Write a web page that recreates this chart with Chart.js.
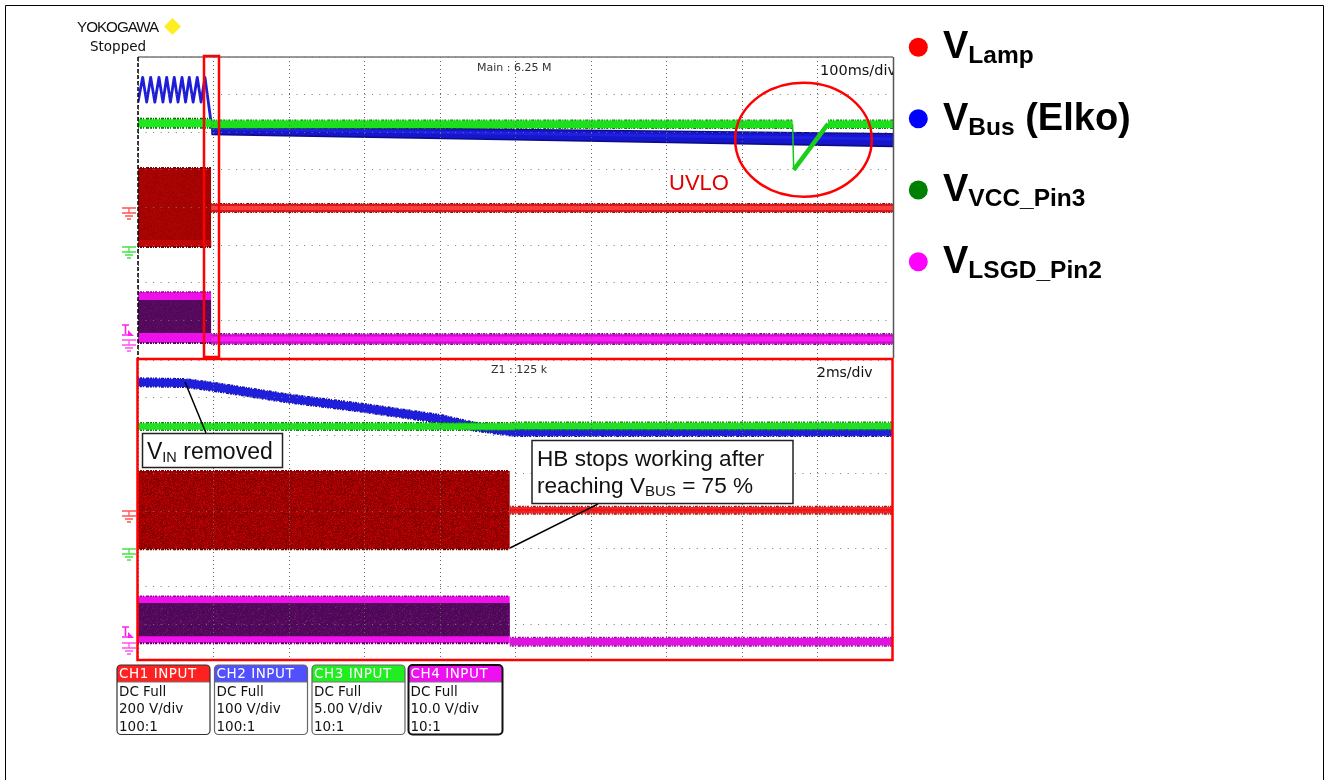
<!DOCTYPE html>
<html><head><meta charset="utf-8">
<style>
html,body{margin:0;padding:0;background:#fff;width:1329px;height:780px;overflow:hidden}
canvas{position:absolute;display:block}
svg{position:absolute;left:0;top:0}
text{font-family:"Liberation Sans",Arial,sans-serif}
.scope{font-family:"DejaVu Sans",sans-serif}
</style>
<script src="https://cdn.jsdelivr.net/npm/chart.js@4"></script>
</head><body>
<canvas id="top" width="755" height="301" style="left:138px;top:57px"></canvas>
<canvas id="bot" width="755" height="302" style="left:138px;top:360px"></canvas>
<svg id="ov" width="1329" height="780" xmlns="http://www.w3.org/2000/svg"></svg>
<script>
// ---- data: time in ms, level in scope divisions above the bottom graticule line ----
const topBurstTime = [0, 97];
const topAfterTime = [97, 1000];
const topLampBurstHigh = [5.05, 5.05];
const topLampBurstLow = [2.95, 2.95];
const topLampBurstFloor = [3.04, 3.04];
const topLampLine = [3.99, 3.99];
const topBusRippleTime = [0, 6.2, 11.5, 16.8, 22.3, 27.8, 33, 38, 43, 48, 53, 58.3, 63, 67.9, 73, 78.5, 83.5, 88.7, 96.7];
const topBusRipple = [6.8, 7.46, 6.8, 7.46, 6.8, 7.46, 6.8, 7.46, 6.8, 7.46, 6.8, 7.46, 6.8, 7.46, 6.8, 7.46, 6.8, 7.46, 6.28];
const topBusTime = [97, 500, 1000];
const topBusHigh = [6.16, 6.06, 5.95];
const topBusLow = [5.96, 5.82, 5.65];
const topBusEdgeHigh = [6.19, 6.09, 5.98];
const topBusEdgeLow = [5.92, 5.78, 5.6];
const topBusCore = [6.09, 5.97, 5.82];
const topVccTimeA = [0, 97];
const topVccA = [6.24, 6.24];
const topVccTimeB = [97, 867];
const topVccB = [6.21, 6.21];
const topVccDropTime = [867, 868.5];
const topVccDrop = [6.21, 5.0];
const topVccRampTime = [868.5, 914];
const topVccRamp = [5.0, 6.22];
const topVccTimeC = [914, 1000];
const topVccC = [6.21, 6.21];
const topLsgdTop = [1.755, 1.755];
const topLsgdUpper = [1.54, 1.54];
const topLsgdLower = [0.665, 0.665];
const topLsgdLow = [0.40, 0.40];
const topLsgdLine = [0.505, 0.505];

const botBurstTime = [0, 9.85];
const botAfterTime = [9.85, 20];
const botLampBurstHigh = [5.06, 5.06];
const botLampBurstLow = [2.99, 2.99];
const botLampLine = [4.02, 4.02];
const botBusTime = [0, 1.24, 2.0, 3.99, 5.98, 8.0, 8.87, 10.0, 20];
const botBus = [7.41, 7.39, 7.29, 6.98, 6.73, 6.44, 6.24, 6.09, 6.09];
const botVccTime = [0, 9.9, 10.0, 20];
const botVcc = [6.24, 6.24, 6.25, 6.25];
const botLsgdTop = [1.74, 1.74];
const botLsgdUpper = [1.565, 1.565];
const botLsgdLower = [0.68, 0.68];
const botLsgdLow = [0.50, 0.50];
const botLsgdLine = [0.535, 0.535];

const channelNames = ["CH1 INPUT", "CH2 INPUT", "CH3 INPUT", "CH4 INPUT"];
const channelScales = ["200 V/div", "100 V/div", "5.00 V/div", "10.0 V/div"];
const channelProbes = ["100:1", "100:1", "10:1", "10:1"];
const legendMain = ["Lamp", "Bus", "VCC_Pin3", "LSGD_Pin2"];

// ---- styling helpers ----
const NOISE = [1,1,2,1,1,2,3,1,2,1,1,1,2,2,1,1,3,1];
function pts(xs, ys){ return xs.map((x,i)=>({x, y:ys[i]})); }
function line(xs, ys, color, width, dash){
  return {data:pts(xs,ys), borderColor:color, borderWidth:width, borderDash:dash||[], showLine:true,
          pointRadius:0, tension:0, fill:false, borderCapStyle:'butt', borderJoinStyle:'round'};
}
function band(xs, high, low, fillStyle){
  return {data:pts(xs,high), borderWidth:0, borderColor:'rgba(0,0,0,0)', showLine:true, pointRadius:0, tension:0,
          backgroundColor:fillStyle, fill:{target:{value:low[0]}}};
}
function bandBetween(xs, high, low, color){ // sloped band: second series fills up to the first
  return [ {data:pts(xs,high), borderWidth:0, showLine:true, pointRadius:0, tension:0, fill:false},
           {data:pts(xs,low), borderWidth:0, showLine:true, pointRadius:0, tension:0, backgroundColor:color, fill:'-1'} ];
}
function speckle(colors, weights){ // texture of the persisted scope trace, a fixed tile
  const c=document.createElement('canvas'); c.width=c.height=97;
  const g=c.getContext('2d'); let s=12345;
  const tot=weights.reduce((a,b)=>a+b,0);
  for(let y=0;y<97;y++)for(let x=0;x<97;x++){
    s=(s*1103515245+12345)&0x7fffffff;
    let r=((s>>8)%1000)/1000*tot,i=0;
    while(r>weights[i]){r-=weights[i];i++;}
    g.fillStyle=colors[i]; g.fillRect(x,y,1,1);
  }
  return g.createPattern(c,'repeat');
}
const redTopFill=speckle(['#a80404','#a00202','#ac0404','#980000'],[5,3,2,1]);
const redBotFill=speckle(['#a00000','#8a0000','#b00202','#c00808','#720000'],[5,3,3,1,1]);
const purpleFill=speckle(['#580a60','#520858','#600c68','#4c0652'],[5,3,1,1]);
const purpleFill2=speckle(['#540a5c','#4c0854','#661068','#460650','#7a1484'],[6,3,1,1,.3]);

function graticule(){
  return {
    x:{type:'linear',position:'bottom',display:true,ticks:{display:false},grid:{color:'#666',lineWidth:1,drawTicks:false,z:1},border:{display:false,dash:[1,3]}},
    y:{type:'linear',position:'left',display:true,min:0,max:8,ticks:{display:false,stepSize:1},grid:{color:'#777',lineWidth:1,drawTicks:false,z:1},border:{display:false,dash:[1,6.55]}}
  };
}
function scope(id, maxX, layers){
  const sc=graticule(); sc.x.min=0; sc.x.max=maxX; sc.x.ticks.stepSize=maxX/10;
  new Chart(document.getElementById(id),{
    type:'scatter',
    data:{datasets:layers.slice().reverse()},
    options:{responsive:false,animation:false,events:[],layout:{padding:0},
      plugins:{legend:{display:false},tooltip:{enabled:false}},scales:sc}
  });
}
// Sloped bands use fill:'-1' (the previous dataset in the chart), so their pair is listed low-first here.
const busEdge = bandBetween(topBusTime, topBusEdgeHigh, topBusEdgeLow, '#0c0c88').reverse();
const busBody = bandBetween(topBusTime, topBusHigh, topBusLow, '#1616cc').reverse();

// ---- top pane, listed bottom-most first ----
scope('top',1000,[
  band(topBurstTime, topLampBurstHigh, topLampBurstLow, redTopFill),
  line(topBurstTime, topLampBurstHigh, '#8a0000', 2, NOISE),
  line(topBurstTime, topLampBurstFloor, '#c00808', 7),
  line(topBurstTime, topLampBurstLow, '#700000', 2, NOISE),
  line(topAfterTime, topLampLine, '#8c0606', 10, NOISE),
  line(topAfterTime, topLampLine, '#d81818', 8),
  line(topAfterTime, topLampLine, '#ff3c3c', 4),
  band(topBurstTime, topLsgdTop, topLsgdLow, '#ee10e8'),
  band(topBurstTime, topLsgdUpper, topLsgdLower, purpleFill),
  line(topBurstTime, topLsgdLow, '#50085a', 2, NOISE),
  line(topBurstTime, topLsgdTop, '#8a1090', 1.5, NOISE),
  line(topAfterTime, topLsgdLine, '#7a1080', 12, NOISE),
  line(topAfterTime, topLsgdLine, '#c810c8', 9.5),
  line(topAfterTime, topLsgdLine, '#ff18f8', 5),
  line(topBusRippleTime, topBusRipple, '#1e1ed8', 2.8),
  ...busEdge,
  ...busBody,
  line(topBusTime, topBusCore, '#2020e4', 3),
  line(topVccTimeA, topVccA, '#0a6a0a', 11, NOISE),
  line(topVccTimeA, topVccA, '#20e820', 8),
  line(topVccTimeB, topVccB, '#0a7a0a', 9.5, NOISE),
  line(topVccTimeB, topVccB, '#1ce01c', 7.5),
  line(topVccTimeC, topVccC, '#0a7a0a', 9.5, NOISE),
  line(topVccTimeC, topVccC, '#1ce01c', 7.5),
  line(topVccDropTime, topVccDrop, '#18c818', 1.5),
  line(topVccRampTime, topVccRamp, '#18d018', 4.5)
]);

// ---- bottom pane ----
scope('bot',20,[
  band(botBurstTime, botLampBurstHigh, botLampBurstLow, redBotFill),
  line(botBurstTime, botLampBurstHigh, '#8a0000', 2, NOISE),
  line(botBurstTime, botLampBurstLow, '#700000', 2, NOISE),
  line(botAfterTime, botLampLine, '#a01010', 9, NOISE),
  line(botAfterTime, botLampLine, '#e82a2a', 6.5),
  line(botAfterTime, botLampLine, '#ff1010', 2.5),
  band(botBurstTime, botLsgdTop, botLsgdLow, '#f010ec'),
  band(botBurstTime, botLsgdUpper, botLsgdLower, purpleFill2),
  line(botBurstTime, botLsgdLow, '#50085a', 2, NOISE),
  line(botBurstTime, botLsgdTop, '#8a1090', 1.5, NOISE),
  line(botAfterTime, botLsgdLine, '#8a1090', 10, NOISE),
  line(botAfterTime, botLsgdLine, '#e014e0', 7.5),
  line(botBusTime, botBus, '#0c0c90', 10, NOISE),
  line(botBusTime, botBus, '#1e1edc', 8),
  line(botVccTime, botVcc, '#0a8a0a', 9, NOISE),
  line(botVccTime, botVcc, '#24e024', 6.5)
]);

// ---- annotations and page furniture ----
const NS='http://www.w3.org/2000/svg', ov=document.getElementById('ov');
function el(n,a,parent){const e=document.createElementNS(NS,n);for(const k in a)e.setAttribute(k,a[k]);(parent||ov).appendChild(e);return e;}
function txt(x,y,s,a){const e=el('text',Object.assign({x,y},a||{}));e.textContent=s;return e;}
function subText(x,y,main,sub,size,subSize,dy,attrs,tail){
  const e=el('text',Object.assign({x,y,'font-size':size},attrs||{}));
  const m=el('tspan',{},e);m.textContent=main;
  const s=el('tspan',{'font-size':subSize,dy},e);s.textContent=sub;
  if(tail){const t=el('tspan',{dy:-dy},e);t.textContent=tail;}
  return e;
}
// page frame
el('path',{d:'M5.5 780 V5.5 H1323.5 V780',fill:'none',stroke:'#000','stroke-width':1});
// top-pane frame
el('line',{x1:138,y1:57,x2:893,y2:57,stroke:'#777','stroke-width':1.5});
el('line',{x1:893.5,y1:57,x2:893.5,y2:358,stroke:'#555','stroke-width':1.5});
el('line',{x1:138,y1:57,x2:138,y2:358,stroke:'#000','stroke-width':1.5,'stroke-dasharray':'4 2'});
// red frames
el('rect',{x:204,y:56,width:15,height:301,fill:'none',stroke:'#f00','stroke-width':2.5});
el('rect',{x:137.5,y:359,width:755,height:301,fill:'none',stroke:'#f00','stroke-width':2.5});
// UVLO ellipse
el('ellipse',{cx:803.5,cy:139.7,rx:68.3,ry:57,fill:'none',stroke:'#f00','stroke-width':2.5});
txt(669,190,'UVLO',{'font-size':22,fill:'#e00000'});
// scope heads
txt(77,32,'YOKOGAWA',{'font-size':15.2,'letter-spacing':-1,fill:'#111'});
el('path',{d:'M172.5 18 L181 26.5 L172.5 35 L164 26.5 Z',fill:'#ffee22'});
txt(90,51,'Stopped',{'font-size':13.5,class:'scope',fill:'#111'});
txt(477,71,'Main : 6.25 M',{'font-size':11,class:'scope',fill:'#333'});
const clip=el('clipPath',{id:'c1'});el('rect',{x:800,y:55,width:93,height:30},clip);
txt(820,75,'100ms/div',{'font-size':14.5,class:'scope',fill:'#111','clip-path':'url(#c1)'});
txt(491,373,'Z1 : 125 k',{'font-size':11,class:'scope',fill:'#333'});
txt(817,377,'2ms/div',{'font-size':14,class:'scope',fill:'#111'});
// ground marks
function ground(x,y,c){
  el('path',{d:`M${x-7} ${y} H${x+7} M${x} ${y} V${y+5} M${x-7} ${y+5} H${x+7} M${x-4} ${y+8} H${x+4} M${x-2} ${y+11} H${x+2}`,stroke:c,'stroke-width':1.3,fill:'none',opacity:.9});
}
function trigger(x,y,c){
  el('path',{d:`M${x-5} ${y} H${x+2} M${x-1.5} ${y} V${y+9} M${x-5} ${y+10} H${x+2}`,stroke:c,'stroke-width':1.6,fill:'none'});
  el('path',{d:`M${x+1} ${y+5} L${x+7} ${y+11} H${x+1} Z`,fill:c});
}
ground(129,208,'#ff4040');ground(129,247,'#30e030');trigger(127,325,'#ff20f0');ground(129,340,'#ff40f0');
ground(129,511,'#ff4040');ground(129,549,'#30e030');trigger(127,627,'#ff20f0');ground(129,643,'#ff40f0');
// callouts
el('line',{x1:185,y1:382,x2:206,y2:433,stroke:'#000','stroke-width':1.5});
el('rect',{x:142.5,y:433.5,width:140,height:34,fill:'#fff',stroke:'#222','stroke-width':1.5});
subText(147,459,'V','IN',23,14.5,3,{fill:'#111'},' removed');
el('line',{x1:510,y1:548,x2:598,y2:504,stroke:'#000','stroke-width':1.5});
el('rect',{x:532,y:440.5,width:261,height:63,fill:'#fff',stroke:'#222','stroke-width':1.5});
txt(537,466,'HB stops working after',{'font-size':22.6,fill:'#111'});
subText(537,493,'reaching V','BUS',22.6,15,3,{fill:'#111'},' = 75 %');
// channel boxes
const boxX=[117,214.5,312,408.5], boxW=[93,93,93,94];
const boxHead=['#ff2020','#5050ff','#20ee20','#ee10ee'];
const boxBody=['DC Full','DC Full','DC Full','DC Full'];
channelNames.forEach((n,i)=>{
  const x=boxX[i], w=boxW[i], sw=i==3?2:1.2, sc=i==3?'#111':(i==0?'#333':'#666');
  el('rect',{x,y:665,width:w,height:69.5,rx:4,fill:'#fff',stroke:'none'});
  el('path',{d:`M${x} 682 V669 a4 4 0 0 1 4 -4 H${x+w-4} a4 4 0 0 1 4 4 V682 Z`,fill:boxHead[i]});
  el('line',{x1:x,y1:682,x2:x+w,y2:682,stroke:'#777','stroke-width':1});
  el('rect',{x,y:665,width:w,height:69.5,rx:4,fill:'none',stroke:sc,'stroke-width':sw});
  txt(x+2,678,n,{'font-size':13.5,class:'scope',fill:'#fff','letter-spacing':.55});
  txt(x+2,696,boxBody[i],{'font-size':13.5,class:'scope',fill:'#111'});
  txt(x+2,713,channelScales[i],{'font-size':13.5,class:'scope',fill:'#111'});
  txt(x+2,731,channelProbes[i],{'font-size':13.5,class:'scope',fill:'#111'});
});
// legend
const legendY=[47.3,118.7,190,261.7], legendC=['#ff0000','#0000ff','#008000','#ff00ff'];
legendMain.forEach((s,i)=>{
  el('circle',{cx:918.3,cy:legendY[i],r:9.5,fill:legendC[i]});
  subText(943,legendY[i]+11,'V',s,38,24.5,5,{'font-weight':'bold',fill:'#000'},i==1?' (Elko)':'');
});
</script>
</body></html>
